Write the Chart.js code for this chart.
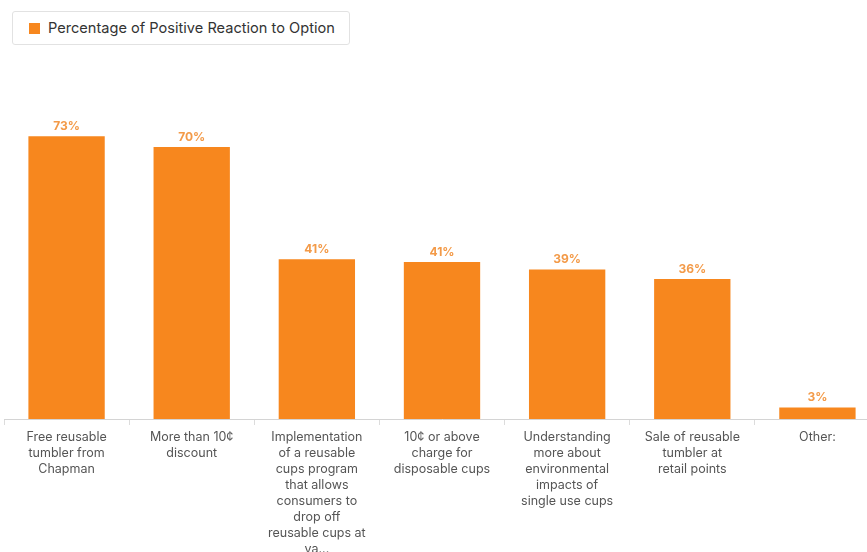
<!DOCTYPE html>
<html>
<head>
<meta charset="utf-8">
<script src="https://cdn.jsdelivr.net/npm/chart.js@4"></script>
<style>
    html, body { margin: 0; padding: 0; background: #fff; overflow: hidden; }
    #wrap { position: relative; width: 867px; height: 552px; overflow: hidden; }
    #chartBox { position: absolute; left: 0; top: 0; width: 884px; height: 552px; }
    #legend {
        position: absolute; left: 12px; top: 11px; height: 34px;
        box-sizing: border-box; padding: 0 14px 0 16px;
        border: 1px solid #e2e2e2; border-radius: 3px;
        font: 14.6px "Inter", "Liberation Sans", sans-serif; color: #333;
        display: flex; align-items: center; background: #fff;
    }
    #legend span.sw { width: 11px; height: 11px; background: #f7871e; margin-right: 8px; display: inline-block; }
</style>
</head>
<body>
<div id="wrap">
    <div id="chartBox"><canvas id="reactionChart"></canvas></div>
    <div id="legend"><span class="sw"></span><span>Percentage of Positive Reaction to Option</span></div>
</div>
<script>
const categories = [
    ["Free reusable", "tumbler from", "Chapman"],
    ["More than 10¢", "discount"],
    ["Implementation", "of a reusable", "cups program", "that allows", "consumers to", "drop off", "reusable cups at", "va..."],
    ["10¢ or above", "charge for", "disposable cups"],
    ["Understanding", "more about", "environmental", "impacts of", "single use cups"],
    ["Sale of reusable", "tumbler at", "retail points"],
    ["Other:"]
];
const positiveReaction = [73, 70.2, 41.2, 40.5, 38.6, 36.1, 3];
const valueLabels = ["73%", "70%", "41%", "41%", "39%", "36%", "3%"];

const barColor = "#f7871e";

const valueLabelPlugin = {
    id: "valueLabels",
    afterDatasetsDraw: function (chart) {
        const ctx = chart.ctx;
        const meta = chart.getDatasetMeta(0);
        ctx.save();
        ctx.font = "bold 12px Inter, 'Liberation Sans', sans-serif";
        ctx.fillStyle = "#f39a48";
        ctx.textAlign = "center";
        ctx.textBaseline = "bottom";
        meta.data.forEach(function (bar, i) {
            ctx.fillText(valueLabels[i], bar.x, bar.y - 4);
        });
        ctx.restore();
    }
};

new Chart(document.getElementById("reactionChart"), {
    type: "bar",
    data: {
        labels: categories,
        datasets: [
            {
                label: "Percentage of Positive Reaction to Option",
                data: positiveReaction,
                backgroundColor: barColor,
                barPercentage: 0.61,
                categoryPercentage: 1,
            },
        ],
    },
    options: {
        responsive: true,
        maintainAspectRatio: false,
        animation: false,
        layout: {
            padding: { left: 4, right: 4, top: 109, bottom: 0 },
        },
        plugins: {
            legend: { display: false },
            tooltip: { enabled: false },
        },
        scales: {
            x: {
                afterFit: function (scale) {
                    scale.height = 133;
                },
                border: { color: "#d4d4d4", width: 1 },
                grid: {
                    offset: true,
                    drawOnChartArea: false,
                    drawTicks: true,
                    tickLength: 6,
                    color: "#dcdcdc",
                },
                ticks: {
                    color: "#555",
                    padding: 4,
                    maxRotation: 0,
                    autoSkip: false,
                    font: { family: "Inter, 'Liberation Sans', sans-serif", size: 12.5, lineHeight: 1.28 },
                },
            },
            y: {
                display: false,
                min: 0,
                max: 80,
            },
        },
    },
    plugins: [valueLabelPlugin],
});
</script>
</body>
</html>
